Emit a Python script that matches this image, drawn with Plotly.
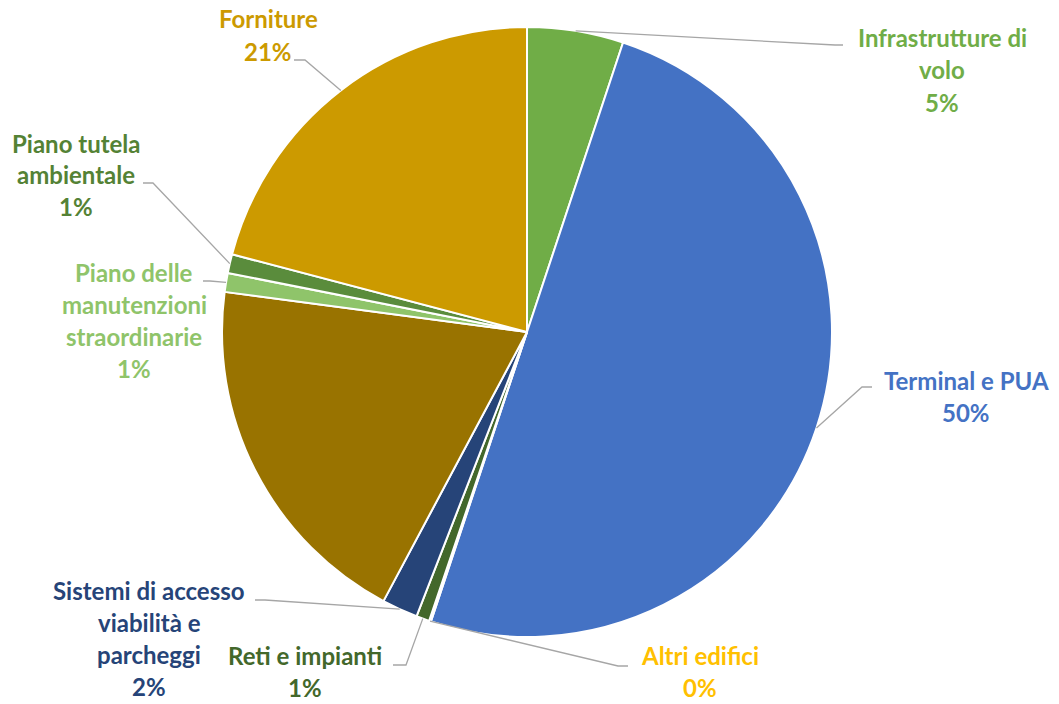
import math
import plotly.graph_objects as go

W, H = 1059, 704

# ---- data (clockwise from 12 o'clock) ----
categories = ["Infrastrutture di volo", "Terminal e PUA", "Altri edifici", "Reti e impianti",
              "Sistemi di accesso viabilità e parcheggi", "",
              "Piano delle manutenzioni straordinarie", "Piano tutela ambientale", "Forniture"]
values = [5.1, 50.0, 0.1, 0.7, 1.9, 19.3, 1.0, 1.0, 20.9]
label_lines = [["Infrastrutture di", "volo"], ["Terminal e PUA"], ["Altri edifici"], ["Reti e impianti"],
               ["Sistemi di accesso", "viabilità e", "parcheggi"], [],
               ["Piano delle", "manutenzioni", "straordinarie"], ["Piano tutela", "ambientale"], ["Forniture"]]
slice_colors = ["#70AD47", "#4472C4", "#FFC000", "#43682B", "#264478", "#997300",
                "#8FC46A", "#5A8C3C", "#CC9A00"]
text_colors = ["#70AD47", "#4472C4", "#FFC000", "#43682B", "#264478", None,
               "#8FC46A", "#548235", "#CC9A00"]

# ---- layout (pixel positions of labels: center x, first line y; leader stub & elbow) ----
CX, CY, R = 527, 332, 305
label_pos = [(942, 38), (966, 380), (700, 655), (305, 655), (149, 590), None,
             (134, 272), (76, 143), (268, 19)]
leader = [  # (stub start, elbow)
    ((843, 45), (835, 45)),
    ((872, 387), (862, 387)),
    ((628, 666), (618, 666)),
    ((393, 665), (406, 665)),
    ((255, 600), (265, 600)),
    None,
    ((203, 281), (210, 281)),
    ((143, 183), (153, 183)),
    ((294, 60), (305, 60)),
]
LINE_H = 32
FONT = "Lato"
FS = 24

def px(x):
    return x / W

def py(y):
    return 1 - y / H

fig = go.Figure(go.Pie(
    labels=categories, values=values, sort=False, direction="clockwise", rotation=0,
    marker=dict(colors=slice_colors, line=dict(color="white", width=2)),
    textinfo="none", hoverinfo="label+percent", showlegend=False,
    domain=dict(x=[px(CX - R), px(CX + R)], y=[py(CY + R), py(CY - R)]),
))

total = sum(values)
annotations = []
shapes = []
cum = 0.0
for i, v in enumerate(values):
    mid = (cum + v / 2) / total * 2 * math.pi
    cum += v
    if label_pos[i] is None:
        continue
    lines = label_lines[i] + [f"{round(v / total * 100)}%"]
    lx, ly = label_pos[i]
    for k, t in enumerate(lines):
        annotations.append(dict(
            x=px(lx), y=py(ly + k * LINE_H), xref="paper", yref="paper",
            text=f"<b>{t}</b>", showarrow=False, xanchor="center", yanchor="middle",
            borderpad=0,
            font=dict(family=FONT, size=FS, color=text_colors[i]),
        ))
    ex, ey = CX + R * math.sin(mid), CY - R * math.cos(mid)
    (sx, sy), (bx, by) = leader[i]
    path = f"M {px(sx)} {py(sy)} L {px(bx)} {py(by)} L {px(ex)} {py(ey)}"
    shapes.append(dict(type="path", path=path, xref="paper", yref="paper",
                       line=dict(color="#A6A6A6", width=1.3)))

fig.update_layout(
    width=W, height=H, margin=dict(l=0, r=0, t=0, b=0),
    paper_bgcolor="white", plot_bgcolor="white",
    annotations=annotations, shapes=shapes,
)
fig.write_html("out.html", config={"displayModeBar": False},
               post_script="document.body.style.margin='0';")
